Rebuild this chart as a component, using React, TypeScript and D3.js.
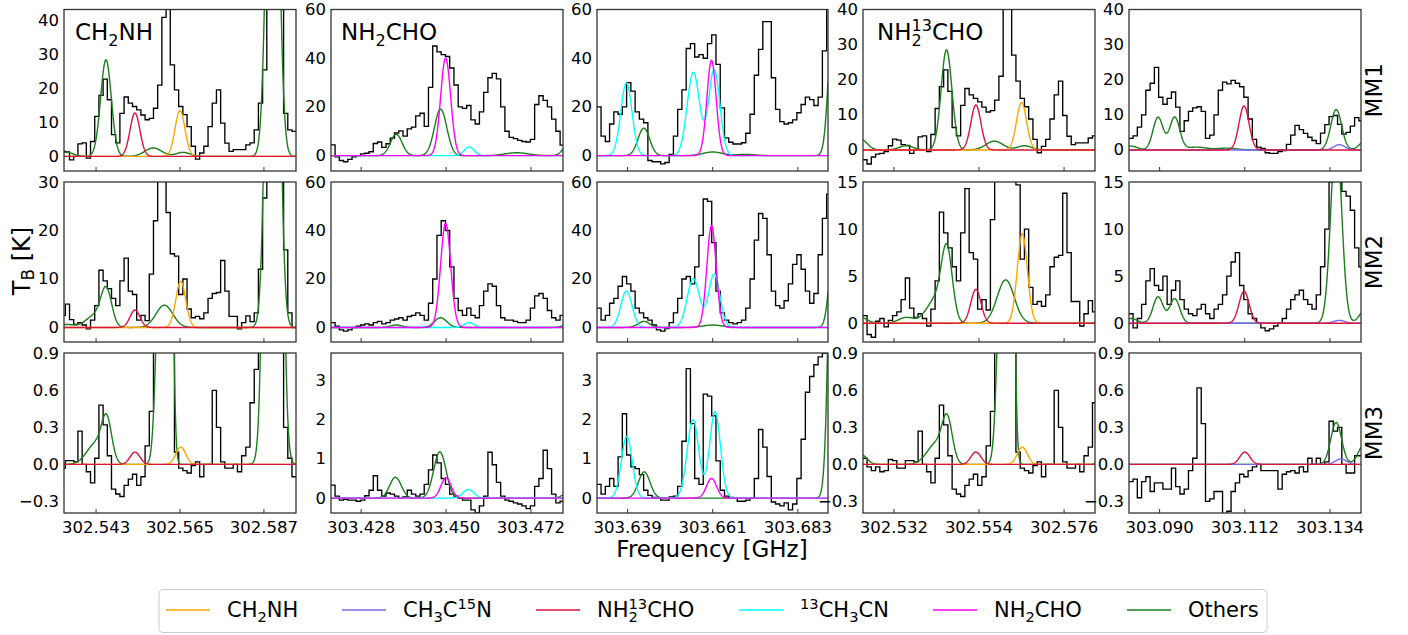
import * as d3 from "d3";
import React from "react";

const WIDTH = 1408;
const HEIGHT = 635;
const FONT = "DejaVu Sans, Verdana, sans-serif";

// channel width of every spectrum [GHz]
const CHAN = 0.0011;

// first channel centre of each spectral window [GHz]
const F0_A = 302.5245; // CH2NH / NH2-13CHO window
const F0_B = 303.4207; // NH2CHO window
const F0_C = 303.6316; // 13CH3CN window
const F0_D = 303.0826; // CH3C15N / NH2-13CHO window

// observed spectra, T_B [K] per channel
const specA_MM1 = [
  -2.8, -4, -2, -1.2, -1, -0.5, 1.2, 3.1, 2.8, 1.5,
  1.3, -1, 0, 3.7, 4, -0.5, 4.4, 11.8, 18, 22.8,
  16.7, 6.4, 4, 12.7, 17.5, 15.7, 14.7, 13.7, 12.2, 10.8,
  11.2, 14.2, 21, 41, 58, 27, 19.6, 14.7, 12.3, 8.8,
  3, -0.8, 1, 3, 8.8, 15.7, 19.6, 9.8, 3.9, 1.5,
  2, 2, 2, 3.4, 4, 7.8, 15.7, 25.5, 60, 75,
  75, 60, 12.7, 7.8, 7.4,
];
const specA_MM2 = [
  0.8, -1.2, -1.5, 0.2, 0.5, -0.4, 0.3, 0.8, 1.2, 2.5,
  4.8, 1.6, 0.6, 1, 0.5, -0.3, 1.5, 4.5, 11.8, 9.6,
  8, 6, 4.5, 9.6, 14.3, 7.5, 6.8, 1.5, 2.5, 1.4,
  11, 22, 40, 45, 23.7, 15.2, 14.7, 6.8, 10, 3.8,
  2, 2.3, 1.8, 3, 6, 7, 7.2, 13.8, 7.5, 2.3,
  2.3, -0.3, 1, 2.4, 1.2, 3, 12, 26.7, 50, 65,
  65, 50, 16, 3, 0,
];
const specA_MM3 = [
  0.05, -0.02, -0.05, -0.02, -0.06, -0.05, 0.04, 0.03, -0.03, -0.03,
  0.03, 0.03, 0.02, 0.27, 0.0, -0.06, -0.15, 0.05, 0.48, 0.32,
  0.07, -0.2, -0.24, -0.26, -0.17, -0.12, -0.08, -0.17, -0.1, 0.15,
  0.43, 1.5, 3, 4, 2, 1.0, 0.1, -0.03, -0.05, -0.07,
  -0.01, 0.02, -0.1, 0.0, 0.0, 0.6, 0.3, 0.02, -0.03, -0.03,
  0.0, -0.06, 0.07, 0.14, 0.5, 0.77, 1.5, 3, 5, 6,
  5, 3, 0.3, 0.05, -0.1,
];
const specB_MM1 = [
  4.4, -0.5, -2, -2.5, -1.5, -0.5, 0, 0.7, 1, 1.6,
  5, 5.6, 3.4, 4.9, 7.2, 9.3, 10.2, 8, 11, 11.7,
  16.3, 17.4, 12, 28, 45, 42.6, 41.5, 40.7, 36, 29,
  20, 19.4, 20.6, 14.7, 13, 18, 26, 32, 33.8, 31.5,
  20, 10, 7.5, 7, 6.3, 5.8, 5.6, 6.7, 21, 24.6,
  22.7, 20, 15, 10, 4.3,
];
const specB_MM2 = [
  2, 0.5, -1, -1.5, -1, 0, 0.5, 1, 1.5, 1,
  2, 2.5, 1.5, 2, 3, 3.5, 4, 3, 4.5, 5,
  6, 5, 3, 10, 20, 38, 44, 40, 25, 12,
  7, 5, 8, 5, 4, 9, 15, 18, 17, 9,
  4, 3, 3, 2.5, 2, 2, 3, 8, 13, 14,
  12, 7, 4, 3, 5,
];
const specB_MM3 = [
  0.33, 0.05, -0.05, -0.03, -0.05, -0.05, -0.08, -0.05, 0.06, 0.2,
  0.57, 0.2, 0.05, 0.13, 0.1, 0.05, 0.0, 0.03, 0.2, 0.1,
  0.05, 0.1, 0.35, 0.72, 1.1, 0.9, 0.5, 0.35, 0.1, 0.05,
  0.0, -0.05, -0.05, -0.3, -0.38, -0.2, 0.05, 1.17, 0.85, 0.4,
  0.05, -0.05, -0.08, -0.12, -0.15, -0.2, -0.27, -0.2, 0.3, 0.5,
  1.22, 0.75, 0.1, -0.12, -0.08,
];
const specC_MM1 = [
  20, 8, 5.8, 13, 18, 17, 20, 30, 26.5, 18,
  15, 13.5, -2, -2.5, -2.5, -3.4, -2.8, 0.5, 8, 19,
  27, 44, 46, 40.5, 41.5, 40, 46, 49.6, 37.5, 19.6,
  7.3, 5.5, 4.8, 4.8, 5.3, 9.2, 17, 33, 43.6, 55,
  55, 32, 19, 14, 13, 13.5, 14.7, 17.6, 21, 24,
  23, 20.6, 24, 43, 62,
];
const specC_MM2 = [
  8, 3, 5, 10, 12, 17, 21, 18, 15, 8,
  6, 4, 3, 1, -1, -1.5, -0.5, 2, 6, 12,
  20, 21, 18, 25, 38, 53, 52, 35, 15, 6,
  3, 2, 1.5, 2, 3, 8, 20, 36, 47, 45,
  30, 15, 9, 8, 11, 18, 26, 30, 24, 15,
  10, 14, 30, 45, 55,
];
const specC_MM3 = [
  0.35, 0.1, 0.3, 0.5, 0.3, 1.05, 2.15, 1.1, 0.8, 0.75,
  0.6, 0.2, 0.07, 0.02, 0.0, -0.05, -0.05, 0.03, 0.05, 0.3,
  1.45, 3.3, 1.9, 0.5, 0.35, 2.65, 2.6, 2.1, 0.95, 0.2,
  0.05, 0.02, 0.0, -0.08, -0.08, -0.05, 0.0, 0.5, 1.75, 1.3,
  0.55, -0.1, -0.15, -0.2, -0.12, -0.3, -0.15, 0.5, 1.5, 2.7,
  3.1, 3.4, 3.6, 3.7, 3.8,
];
const specD_MM1 = [
  3.3, 4, 6.5, 10, 17, 19, 23.5, 15, 13, 14.7,
  16.5, 12.2, 5.3, 8.3, 11, 12, 12.3, 11, 3.3, 4.2,
  10, 17, 19.3, 18.8, 19.8, 19, 18, 15, 8.8, 3,
  0.8, 0.4, -0.8, -1, -1, -0.5, -0.2, 1.6, 4.2, 7,
  5.8, 4.7, 3.6, 2.7, 1.8, 4.8, 7.2, 9.5, 9.8, 7.3,
  4.5, 5, 6.8, 9.2, 8.3,
];
const specD_MM2 = [
  1, -0.5, 0.5, 2, 4.5, 5.8, 4, 3.5, 5, 2,
  3.5, 4.5, 2.5, 1.5, 1, 0.8, 1.5, 2, 1, 0.5,
  1.5, 2, 3, 5, 6.5, 7.5, 4, 2.5, 1, 0.5,
  0, -0.5, -0.8, -0.6, -0.3, 0, 0.5, 1.5, 2.5, 3,
  3.5, 2.5, 2, 1.5, 3, 6, 10, 15, 18, 16,
  14, 13.5, 12, 8, 6,
];
const specD_MM3 = [
  -0.14, -0.12, -0.27, -0.14, -0.1, -0.22, -0.15, -0.15, -0.2, -0.2,
  -0.03, -0.18, -0.24, -0.2, -0.05, 0.05, 0.62, 0.33, -0.3, -0.28,
  -0.22, -0.22, -0.4, -0.38, -0.22, -0.15, -0.08, -0.1, -0.05, -0.02,
  0.0, -0.05, -0.05, -0.05, -0.05, -0.2, -0.08, -0.06, -0.05, -0.07,
  -0.02, -0.06, 0.05, 0.0, 0.05, 0.0, 0.02, 0.35, 0.27, 0.3,
  0.0, -0.07, -0.07, 0.07, 0.07,
];

// fitted gaussian components: species, centre [GHz], peak [K], sigma [GHz]
type Line = [string, number, number, number];

const linesA_MM1: Line[] = [
  ["Others", 302.5235, 3.0, 0.0016],
  ["Others", 302.5352, 1.2, 0.0018],
  ["Others", 302.5456, 28.5, 0.0014],
  ["Others", 302.558, 2.5, 0.0022],
  ["Others", 302.5658, 1.2, 0.0018],
  ["Others", 302.5893, 150, 0.0014],
  ["CH2NH", 302.565, 13.5, 0.0013],
  ["NH2_13CHO", 302.5532, 12.8, 0.0013],
];
const linesA_MM2: Line[] = [
  ["Others", 302.5235, 0.6, 0.0016],
  ["Others", 302.5352, 0.6, 0.002],
  ["Others", 302.5428, 2.5, 0.0024],
  ["Others", 302.5457, 7.2, 0.0014],
  ["Others", 302.5609, 4.6, 0.0022],
  ["Others", 302.5893, 150, 0.0014],
  ["CH2NH", 302.5652, 9.5, 0.0013],
  ["NH2_13CHO", 302.5532, 3.6, 0.0013],
];
const linesA_MM3: Line[] = [
  ["Others", 302.5235, 0.08, 0.0015],
  ["Others", 302.543, 0.17, 0.0024],
  ["Others", 302.5458, 0.32, 0.0013],
  ["Others", 302.56, 2, 0.0011],
  ["Others", 302.562, 5, 0.0008],
  ["Others", 302.5894, 14, 0.00143],
  ["CH2NH", 302.5652, 0.14, 0.0013],
  ["NH2_13CHO", 302.5532, 0.1, 0.0013],
];
const linesB_MM1: Line[] = [
  ["Others", 303.4371, 8.8, 0.0015],
  ["Others", 303.4486, 19.1, 0.0016],
  ["Others", 303.4683, 1.2, 0.003],
  ["Others", 303.4818, 5, 0.0014],
  ["13CH3CN", 303.456, 3.6, 0.0013],
  ["NH2CHO", 303.4499, 40, 0.0013],
];
const linesB_MM2: Line[] = [
  ["Others", 303.4371, 1.0, 0.0015],
  ["Others", 303.4486, 4.0, 0.0016],
  ["Others", 303.4818, 1.5, 0.0014],
  ["13CH3CN", 303.456, 2.0, 0.0013],
  ["NH2CHO", 303.4499, 43, 0.0013],
];
const linesB_MM3: Line[] = [
  ["Others", 303.4369, 0.53, 0.0015],
  ["Others", 303.4484, 1.18, 0.0016],
  ["Others", 303.4818, 0.15, 0.0014],
  ["13CH3CN", 303.4558, 0.22, 0.0014],
  ["NH2CHO", 303.45, 0.52, 0.0013],
];
const linesC_MM1: Line[] = [
  ["Others", 303.6432, 11.3, 0.0015],
  ["Others", 303.661, 1.5, 0.0025],
  ["Others", 303.6695, 0.5, 0.0025],
  ["Others", 303.6922, 60, 0.0012],
  ["13CH3CN", 303.6387, 29.8, 0.00145],
  ["13CH3CN", 303.656, 34.2, 0.0016],
  ["13CH3CN", 303.6614, 35.3, 0.00145],
  ["NH2CHO", 303.6607, 39.1, 0.0012],
];
const linesC_MM2: Line[] = [
  ["Others", 303.6432, 2.5, 0.0015],
  ["Others", 303.661, 1, 0.0025],
  ["Others", 303.6925, 40, 0.0012],
  ["13CH3CN", 303.6387, 15, 0.00145],
  ["13CH3CN", 303.656, 20, 0.0016],
  ["13CH3CN", 303.6614, 22, 0.00145],
  ["NH2CHO", 303.6607, 42, 0.0012],
];
const linesC_MM3: Line[] = [
  ["Others", 303.6433, 0.67, 0.0015],
  ["Others", 303.6925, 12, 0.0012],
  ["13CH3CN", 303.6388, 1.57, 0.0014],
  ["13CH3CN", 303.6559, 2.0, 0.0015],
  ["13CH3CN", 303.6616, 2.2, 0.0014],
  ["NH2CHO", 303.6607, 0.5, 0.0013],
];
const linesD_MM1: Line[] = [
  ["Others", 303.0827, 1.1, 0.0015],
  ["Others", 303.0896, 9.3, 0.0013],
  ["Others", 303.0939, 9.3, 0.0013],
  ["Others", 303.0995, 0.8, 0.0025],
  ["Others", 303.1073, 0.5, 0.0025],
  ["Others", 303.1356, 11.5, 0.0014],
  ["Others", 303.1432, 2.7, 0.0015],
  ["CH3C15N", 303.1364, 1.5, 0.0014],
  ["NH2_13CHO", 303.1118, 12.5, 0.0013],
];
const linesD_MM2: Line[] = [
  ["Others", 303.0827, 0.5, 0.0015],
  ["Others", 303.0896, 2.8, 0.0013],
  ["Others", 303.0939, 2.6, 0.0013],
  ["Others", 303.1356, 20, 0.0014],
  ["Others", 303.1432, 1.5, 0.0015],
  ["CH3C15N", 303.1364, 0.3, 0.0014],
  ["NH2_13CHO", 303.1118, 3.4, 0.0013],
];
const linesD_MM3: Line[] = [
  ["Others", 303.1356, 0.34, 0.0014],
  ["Others", 303.1428, 0.16, 0.0015],
  ["CH3C15N", 303.1368, 0.045, 0.0014],
  ["NH2_13CHO", 303.112, 0.1, 0.0013],
];

const SOURCES = ["MM1", "MM2", "MM3"];

// per column: window, frequency range, ticks
const colWindow = ["A", "B", "C", "A", "D"];
const colDomain = [
  [302.5346, 302.5954],
  [303.4202, 303.4803],
  [303.6311, 303.6908],
  [302.524, 302.584],
  [303.0821, 303.142],
];
const colTicks = [
  [302.543, 302.565, 302.587],
  [303.428, 303.45, 303.472],
  [303.639, 303.661, 303.683],
  [302.532, 302.554, 302.576],
  [303.09, 303.112, 303.134],
];

// per row, per column: y range and ticks
const yDomain = [
  [[-4.3, 43.3], [-6.3, 60], [-6.3, 60], [-6, 40], [-6, 40]],
  [[-3, 30], [-6, 60], [-6, 60], [-2, 15], [-2, 15]],
  [[-0.394, 0.903], [-0.38, 3.7], [-0.38, 3.7], [-0.394, 0.903], [-0.394, 0.903]],
];
const yTicks = [
  [[0, 10, 20, 30, 40], [0, 20, 40, 60], [0, 20, 40, 60], [0, 10, 20, 30, 40], [0, 10, 20, 30, 40]],
  [[0, 10, 20, 30], [0, 20, 40, 60], [0, 20, 40, 60], [0, 5, 10, 15], [0, 5, 10, 15]],
  [[-0.3, 0, 0.3, 0.6, 0.9], [0, 1, 2, 3], [0, 1, 2, 3], [-0.3, 0, 0.3, 0.6, 0.9], [-0.3, 0, 0.3, 0.6, 0.9]],
];

const SPECTRA: Record<string, number[][]> = {
  A: [specA_MM1, specA_MM2, specA_MM3],
  B: [specB_MM1, specB_MM2, specB_MM3],
  C: [specC_MM1, specC_MM2, specC_MM3],
  D: [specD_MM1, specD_MM2, specD_MM3],
};
const F0: Record<string, number> = { A: F0_A, B: F0_B, C: F0_C, D: F0_D };
const LINES: Record<string, Line[][]> = {
  A: [linesA_MM1, linesA_MM2, linesA_MM3],
  B: [linesB_MM1, linesB_MM2, linesB_MM3],
  C: [linesC_MM1, linesC_MM2, linesC_MM3],
  D: [linesD_MM1, linesD_MM2, linesD_MM3],
};
// model curves drawn in each window, bottom to top
const DRAW_ORDER: Record<string, string[]> = {
  A: ["Others", "CH2NH", "NH2_13CHO"],
  B: ["Others", "13CH3CN", "NH2CHO"],
  C: ["Others", "13CH3CN", "NH2CHO"],
  D: ["Others", "CH3C15N", "NH2_13CHO"],
};

const COLORS: Record<string, string> = {
  CH2NH: "#ffa500",
  CH3C15N: "#7b68ee",
  NH2_13CHO: "#dc143c",
  "13CH3CN": "#00ffff",
  NH2CHO: "#ff00ff",
  Others: "#1a7f1a",
};

// rich text parts: 0 normal, 1 subscript, 2 superscript, 3 superscript stacked over previous subscript
type Part = [string, number];
const P_CH2NH: Part[] = [["CH", 0], ["2", 1], ["NH", 0]];
const P_CH3C15N: Part[] = [["CH", 0], ["3", 1], ["C", 0], ["15", 2], ["N", 0]];
const P_NH2_13CHO: Part[] = [["NH", 0], ["2", 1], ["13", 3], ["CHO", 0]];
const P_13CH3CN: Part[] = [["13", 2], ["CH", 0], ["3", 1], ["CN", 0]];
const P_NH2CHO: Part[] = [["NH", 0], ["2", 1], ["CHO", 0]];
const P_OTHERS: Part[] = [["Others", 0]];

const colTitle: (Part[] | null)[] = [P_CH2NH, P_NH2CHO, null, P_NH2_13CHO, null];
const LEGEND: [string, Part[]][] = [
  ["CH2NH", P_CH2NH],
  ["CH3C15N", P_CH3C15N],
  ["NH2_13CHO", P_NH2_13CHO],
  ["13CH3CN", P_13CH3CN],
  ["NH2CHO", P_NH2CHO],
  ["Others", P_OTHERS],
];

// layout
const PANEL_X = [[64, 296], [331, 563], [597, 828], [863, 1095], [1129, 1361]];
const PANEL_Y = [[9.5, 171], [182, 342], [353, 513]];
const TITLE_DX = [11, 10, 0, 14, 0];
const LEGEND_X = [166, 342, 536, 739, 933, 1127];

function rich(parts: Part[], fs: number) {
  let shift = 0;
  let lastW = 0;
  return parts.map(([t, k], i) => {
    const size = k === 0 ? fs : fs * 0.7;
    const target = k === 1 ? fs * 0.24 : k >= 2 ? -fs * 0.4 : 0;
    const dy = target - shift;
    shift = target;
    const dx = k === 3 ? -lastW : 0;
    lastW = t.length * 0.636 * size;
    return (
      <tspan key={i} dx={dx} dy={dy} fontSize={size}>
        {t}
      </tspan>
    );
  });
}

function gauss(lines: Line[], species: string, f: number) {
  let s = 0;
  for (const [name, c, a, w] of lines) {
    if (name === species) s += a * Math.exp(-((f - c) ** 2) / (2 * w * w));
  }
  return s;
}

function Panel({ r, c }: { r: number; c: number }) {
  const [x0, x1] = PANEL_X[c];
  const [y0, y1] = PANEL_Y[r];
  const win = colWindow[c];
  const dom = colDomain[c];
  const x = d3.scaleLinear().domain(dom).range([x0, x1]);
  const y = d3.scaleLinear().domain(yDomain[r][c]).range([y1, y0]);
  const clipId = `clip-${r}-${c}`;

  const vals = SPECTRA[win][r];
  const f0 = F0[win];
  const steps: [number, number][] = vals.map((v, i) => [f0 + (i - 0.5) * CHAN, v]);
  steps.push([f0 + (vals.length - 0.5) * CHAN, vals[vals.length - 1]]);
  const stepPath = d3
    .line<[number, number]>()
    .x((d) => x(d[0]))
    .y((d) => y(d[1]))
    .curve(d3.curveStepAfter)(steps);

  const lines = LINES[win][r];
  const grid = d3.range(0, 701).map((k) => dom[0] + ((dom[1] - dom[0]) * k) / 700);

  const ticks = yTicks[r][c];
  const fmt = ticks.some((t) => !Number.isInteger(t)) ? d3.format(".1f") : d3.format("d");
  const title = r === 0 ? colTitle[c] : null;

  return (
    <g>
      <defs>
        <clipPath id={clipId}>
          <rect x={x0} y={y0} width={x1 - x0} height={y1 - y0} />
        </clipPath>
      </defs>
      <g clipPath={`url(#${clipId})`}>
        <path d={stepPath ?? ""} fill="none" stroke="#000" strokeWidth={1.35} />
        {DRAW_ORDER[win].map((sp) => {
          const path = d3
            .line<number>()
            .x((f) => x(f))
            .y((f) => y(gauss(lines, sp, f)))(grid);
          return <path key={sp} d={path ?? ""} fill="none" stroke={COLORS[sp]} strokeWidth={1.4} />;
        })}
      </g>
      <rect x={x0} y={y0} width={x1 - x0} height={y1 - y0} fill="none" stroke="#333" strokeWidth={1.3} />
      {colTicks[c].map((t) => (
        <line key={t} x1={x(t)} x2={x(t)} y1={y1} y2={y1 - 4} stroke="#333" strokeWidth={1} />
      ))}
      {ticks.map((t) => (
        <text
          key={t}
          x={x0 - 5}
          y={y(t)}
          textAnchor="end"
          dominantBaseline="central"
          fontSize={16.5}
          fill="#000"
        >
          {fmt(t)}
        </text>
      ))}
      {r === 2 &&
        colTicks[c].map((t) => (
          <text key={t} x={x(t)} y={533} textAnchor="middle" fontSize={16.5} fill="#000">
            {d3.format(".3f")(t)}
          </text>
        ))}
      {title && (
        <text x={x0 + TITLE_DX[c]} y={40} fontSize={23} fill="#000">
          {rich(title, 23)}
        </text>
      )}
      {c === 4 && (
        <text
          transform={`translate(1374,${(y0 + y1) / 2}) rotate(-90)`}
          textAnchor="middle"
          dominantBaseline="central"
          fontSize={23}
          fill="#000"
        >
          {SOURCES[r]}
        </text>
      )}
    </g>
  );
}

export default function App() {
  return (
    <svg
      width={WIDTH}
      height={HEIGHT}
      viewBox={`0 0 ${WIDTH} ${HEIGHT}`}
      style={{ position: "absolute", left: 0, top: 0, background: "#fff" }}
      fontFamily={FONT}
    >
      <rect width={WIDTH} height={HEIGHT} fill="#fff" />
      {[0, 1, 2].map((r) => [0, 1, 2, 3, 4].map((c) => <Panel key={`${r}-${c}`} r={r} c={c} />))}
      <text transform="translate(22,261) rotate(-90)" textAnchor="middle" dominantBaseline="central" fontSize={24}>
        {rich([["T", 0], ["B", 1], [" [K]", 0]], 24)}
      </text>
      <text x={712} y={557} textAnchor="middle" fontSize={23}>
        Frequency [GHz]
      </text>
      <rect x={159} y={589.5} width={1108} height={43} rx={4} fill="#fff" stroke="#cccccc" strokeWidth={1} />
      {LEGEND.map(([sp, parts], i) => (
        <g key={sp}>
          <line x1={LEGEND_X[i]} x2={LEGEND_X[i] + 44} y1={610} y2={610} stroke={COLORS[sp]} strokeWidth={1.5} />
          <text x={LEGEND_X[i] + 61} y={617} fontSize={21}>
            {rich(parts, 21)}
          </text>
        </g>
      ))}
    </svg>
  );
}
